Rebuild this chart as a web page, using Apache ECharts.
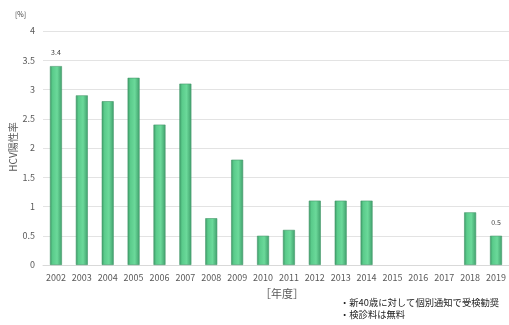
<!DOCTYPE html>
<html>
<head>
<meta charset="utf-8">
<script src="https://cdn.jsdelivr.net/npm/echarts@6/dist/echarts.min.js"></script>
<style>
  html, body { margin: 0; padding: 0; background: #fff; }
  #chart { width: 509px; height: 325px; }
</style>
</head>
<body>
<div id="chart"></div>
<script>
// Fiscal years on the category axis
const years = ['2002','2003','2004','2005','2006','2007','2008','2009','2010','2011',
               '2012','2013','2014','2015','2016','2017','2018','2019'];
// HCV positive rate (%) per year; null = no screening result
const rates = [3.4, 2.9, 2.8, 3.2, 2.4, 3.1, 0.8, 1.8, 0.5, 0.6,
               1.1, 1.1, 1.1, null, null, null, 0.9, 0.5];
// Years whose value is printed above the bar
const labelledYears = ['2002', '2019'];
const yTicks = { min: 0, max: 4, interval: 0.5 };

const font = '"Noto Sans CJK JP", "Noto Sans", sans-serif';
const chart = echarts.init(document.getElementById('chart'), null, { renderer: 'canvas' });

const barFill = new echarts.graphic.LinearGradient(0, 0, 1, 0, [
  { offset: 0, color: '#3b9764' },
  { offset: 0.22, color: '#5acb8b' },
  { offset: 0.6, color: '#6bd99a' },
  { offset: 1, color: '#3f9f6b' }
]);

chart.setOption({
  animation: false,
  grid: { left: 43, right: 0, top: 31, bottom: 60, containLabel: false },
  xAxis: {
    type: 'category',
    data: years,
    axisTick: { show: false },
    axisLine: { lineStyle: { color: '#d9d9d9' } },
    axisLabel: { color: '#595959', fontSize: 9, fontFamily: font, margin: 8, interval: 0 }
  },
  yAxis: {
    type: 'value',
    min: yTicks.min, max: yTicks.max, interval: yTicks.interval,
    axisLine: { show: false },
    axisTick: { show: false },
    splitLine: { lineStyle: { color: '#e3e3e3' } },
    axisLabel: { color: '#595959', fontSize: 9, fontFamily: font, margin: 8 }
  },
  series: [{
    type: 'bar',
    data: rates.map((v, i) => ({
      value: v,
      label: { show: labelledYears.includes(years[i]) }
    })),
    barWidth: 12,
    itemStyle: { color: barFill, borderColor: '#46996b', borderWidth: 0.6 },
    label: {
      position: 'top', distance: 10, fontSize: 7, color: '#404040', fontFamily: font
    }
  }],
  graphic: [
    { type: 'text', left: 15, top: 11,
      style: { text: '[%]', fontSize: 7, fill: '#404040', fontFamily: font } },
    { type: 'text', x: 13, y: 147, rotation: Math.PI / 2,
      style: { text: 'HCV陽性率', fontSize: 10, fill: '#595959', fontFamily: font,
               align: 'center', verticalAlign: 'middle' } },
    { type: 'text', left: 260, top: 288,
      style: { text: '［年度］', fontSize: 11, fill: '#595959', fontFamily: font } },
    { type: 'text', left: 340, top: 296,
      style: { text: '・新40歳に対して個別通知で受検勧奨\n・検診料は無料', fontSize: 9.3,
               lineHeight: 12, fill: '#222', fontFamily: font } }
  ]
});
</script>
</body>
</html>
